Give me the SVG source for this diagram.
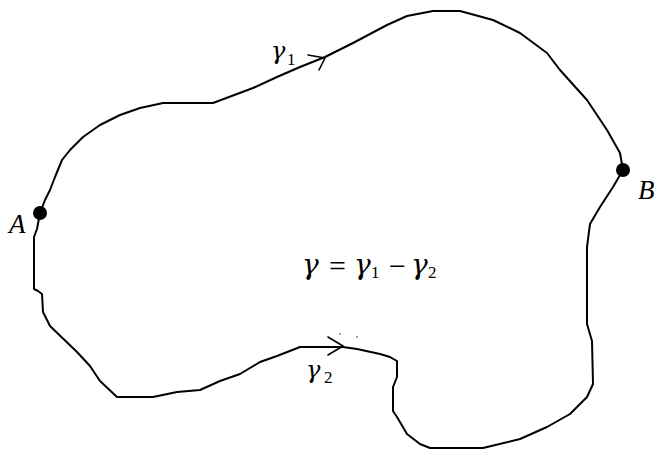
<svg xmlns="http://www.w3.org/2000/svg" width="654" height="449" viewBox="0 0 654 449">
<style>
.c{fill:none;stroke:#000;stroke-width:2;stroke-linejoin:round;stroke-linecap:round}
.ah{fill:none;stroke:#000;stroke-width:1.6;stroke-linecap:round;stroke-linejoin:round}
.t{font-family:"Liberation Serif",serif;fill:#000}
.g{font-family:"DejaVu Serif",serif;font-style:italic;fill:#000}
.i{font-style:italic}
.dot{fill:#000}
.op{stroke:#000;stroke-width:1.3}
</style>
<rect width="654" height="449" fill="#fff"/>
<g id="connectors">
<g id="gamma1">
<polyline class="c" points="40,213 45,200 50,190 55,177 62,160 70,150 83,137 100,125 120,115 140,108 163,103 213,103 253,88 277,77 300,67 325,57 353,43 387,25 407,16 433,11 460,11 493,20 520,33 547,53 560,70 587,100 607,130 620,153 623,170"/>
<polyline class="ah" points="308,55 325,58 319,70"/>
<text class="g" x="271" y="59" font-size="24">γ</text>
<text class="t" x="287" y="65" font-size="17">1</text>
</g>
<g id="gamma2">
<polyline class="c" points="40,213 37,229 34,237 34,289 38,291 42,294 43,312 50,326 77,352 90,366 100,381 117,397 153,397 177,392 200,390 220,381 240,374 260,362 277,356 300,347 343,347 357,349 380,354 390,357 397,361 397,377 393,387 393,411 397,417 407,434 420,444 430,448 483,448 520,439 547,427 570,414 587,397 593,384 592,341 587,324 587,247 590,224 600,207 613,187 623,170"/>
<polyline class="ah" points="328,337 343,346 328,355"/>
<text class="g" x="306" y="378" font-size="24">γ</text>
<text class="t" x="324" y="383" font-size="17">2</text>
<circle class="dot" cx="340" cy="334" r="0.7"/>
<circle class="dot" cx="357" cy="337" r="0.7"/>
</g>
</g>
<g id="A">
<circle class="dot" cx="40" cy="213" r="7"/>
<text class="t i" x="9" y="233" font-size="27">A</text>
</g>
<g id="B">
<circle class="dot" cx="623" cy="170" r="7"/>
<text class="t i" x="638" y="199" font-size="27">B</text>
</g>
<g id="label">
<text class="g" x="302" y="274" font-size="28">γ</text>
<text class="t" x="329" y="276" font-size="30">=</text>
<text class="g" x="354" y="274" font-size="28">γ</text>
<text class="t" x="371" y="278" font-size="17">1</text>
<text class="t" x="389" y="276" font-size="30">−</text>
<text class="g" x="411" y="274" font-size="28">γ</text>
<text class="t" x="428" y="278" font-size="17">2</text>
</g>
</svg>
